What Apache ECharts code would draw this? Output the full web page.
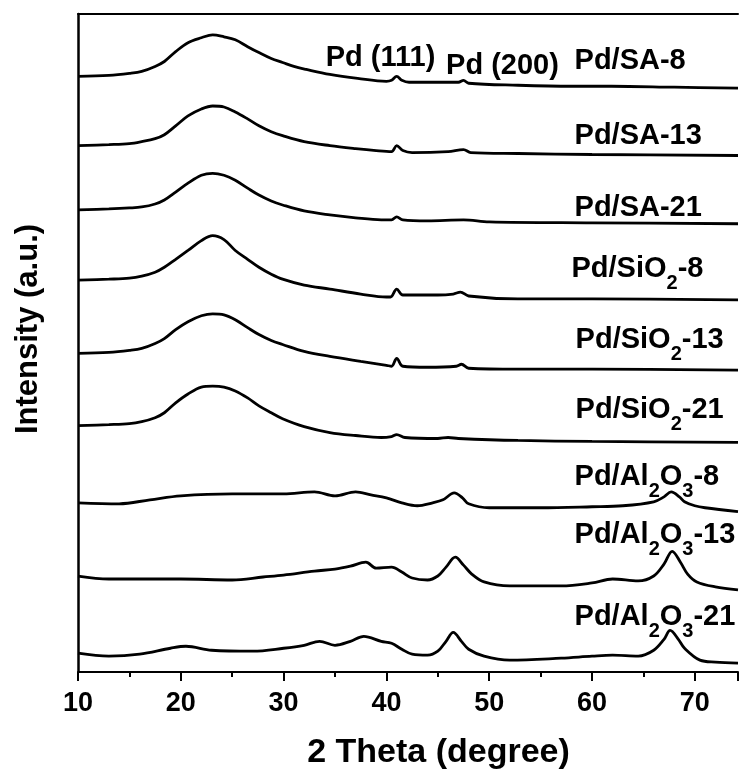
<!DOCTYPE html>
<html>
<head>
<meta charset="utf-8">
<script src="https://cdn.jsdelivr.net/npm/echarts/dist/echarts.min.js"></script>
<style>
html,body{margin:0;padding:0;background:#fff;}
#chart{width:741px;height:775px;}
</style>
</head>
<body>
<div id="chart"></div>
<script>
// 2 Theta (degree) vs stacked intensity (a.u.)
const xTicks = [10, 20, 30, 40, 50, 60, 70];

const sa8 = [[10,602],[13,603],[15,605],[16.2,607],[17.5,612],[18.4,617],[19.5,627],[20.7,636],[22,641],[23.1,644],[24.2,642],[25.3,639],[26.5,632],[27.6,626],[28.8,620],[29.9,616],[31,612],[32.2,609],[34.5,604],[37.2,600],[40,597],[40.5,598],[41,602],[41.5,598],[42.2,596],[45,596],[47,596],[47.5,598],[48,595],[52.8,593],[58,592],[61.9,592],[68,591],[74.2,590]];
const sa13 = [[10,532],[13,533],[15,534],[16.2,536],[17.5,539],[18.4,543],[19.5,552],[20.7,562],[22,569],[23.1,572],[24.2,571],[25.3,566],[26.5,559],[27.6,552],[28.8,546],[29.9,542],[32,536],[34.5,532],[37,529],[39,527],[40.5,526],[41,532],[41.6,527],[42.5,525],[46,526],[47.5,528],[48.2,525],[52.8,524],[60,523],[74.2,522]];
const sa21 = [[10,467],[13,468],[15,469],[16.2,470],[17.5,473],[18.4,477],[19.5,485],[20.7,494],[22,502],[23.1,504],[24.2,502],[25.3,497],[26.5,489],[27.6,482],[28.8,476],[29.9,472],[32,466],[34.5,462],[37,459],[39.5,457],[40.5,457],[41,460],[41.6,457],[44,456],[47.5,457],[50,455],[60,454],[74.2,453]];
const si8 = [[10,396],[13,397],[15,398],[16.2,400],[17.5,404],[18.4,409],[19.5,417],[20.7,426],[22,436],[23.1,441],[24.2,437],[25.3,426],[26.5,417],[27.6,409],[28.8,402],[29.9,397],[32,391],[34.5,387],[37.5,382],[40,379],[40.4,379],[41,387],[41.6,381],[45,381],[46.5,382],[47.2,384],[48,380],[52.8,377],[60,377],[74.2,376]];
const si13 = [[10,322],[13,323],[15,325],[16.2,327],[17.5,332],[18.4,337],[19.5,346],[20.7,354],[22,360],[23.1,362],[24.2,361],[25.3,356],[26.5,348],[27.6,341],[28.8,335],[29.9,331],[32,324],[34.5,319],[37.5,314],[40,310],[40.5,309],[41,317],[41.6,309],[44,308],[46.8,309],[47.3,311],[48,307],[52.8,306],[60,306],[74.2,305]];
const si21 = [[10,249],[13,250],[15,251],[16.2,253],[17.5,257],[18.4,262],[19.5,272],[20.7,281],[22,288],[23.1,289],[24.2,288],[25.3,284],[26.5,277],[27.6,269],[28.8,262],[29.9,256],[32,248],[34.5,242],[37,239],[39.5,237],[40.5,238],[41,240],[41.8,237],[45,236],[46,237],[47,236],[52.8,234],[60,233],[74.2,232]];
const al8 = [[10,171],[14,170],[17,174],[20,178],[25,180],[30,180],[33,182],[35,178],[37,182],[38.5,179],[40,176],[41.5,171],[43,168],[44.5,171],[45.5,174],[46.6,181],[47.4,176],[48,170],[50,166],[55,166],[60,167],[63,168],[66,172],[67,177],[67.7,182],[68.5,177],[69,172],[70,168],[71,166],[74.2,162]];
const al13 = [[10,97],[13,94],[20,94],[25,93],[28,96],[30,98],[33,102],[35,104],[36.5,107],[38,111],[39,105],[40.5,106],[41.5,101],[42.5,95],[44,93],[45,97],[45.8,106],[46.7,116],[47.5,108],[48.3,99],[49.5,91],[52,87],[57,87],[60,90],[62,94],[64.5,92],[66,97],[67,109],[67.8,122],[68.6,111],[69.3,99],[70.2,91],[72,86],[74.2,83]];
const al21 = [[10,19],[13,16],[16,18],[19,24],[20.5,26],[23,22],[27,21],[30,24],[32,27],[33.5,31],[35,27],[36.5,31],[37.8,36],[39.5,31],[40.5,29],[41.5,23],[42.5,18],[44,17],[45,21],[45.8,31],[46.5,40],[47.3,31],[48,23],[49.5,16],[52,12],[57,14],[60,16],[62,17],[64.5,16],[66,22],[67,33],[67.6,42],[68.4,33],[69,24],[70.5,12],[72,10],[74.2,9]];

const patterns = [sa8, sa13, sa21, si8, si13, si21, al8, al13, al21];

const labelTexts = ['Pd (111)', 'Pd (200)', 'Pd/SA-8', 'Pd/SA-13', 'Pd/SA-21',
  '{m|Pd/SiO}{s|2}{m|-8}', '{m|Pd/SiO}{s|2}{m|-13}', '{m|Pd/SiO}{s|2}{m|-21}',
  '{m|Pd/Al}{s|2}{m|O}{s|3}{m|-8}', '{m|Pd/Al}{s|2}{m|O}{s|3}{m|-13}', '{m|Pd/Al}{s|2}{m|O}{s|3}{m|-21}'];
const labelX = [34.1, 45.8, 58.3, 58.3, 58.3, 58.0, 58.4, 58.4, 58.3, 58.3, 58.3];
const labelY = [621, 612, 617, 542, 469, 407, 336, 265, 197, 138, 56];

const chart = echarts.init(document.getElementById('chart'), null, {renderer: 'canvas'});
const FONT = 'Liberation Sans, Arial, sans-serif';

const series = patterns.map(function (p) {
  return {
    type: 'line', data: p, showSymbol: false, smooth: 0.35, silent: true,
    lineStyle: {color: '#000', width: 2.8}, z: 2
  };
});
series.push({
  type: 'scatter', symbolSize: 0, silent: true, z: 5,
  itemStyle: {opacity: 1, color: '#000'},
  data: labelX.map(function (x, i) { return {value: [x, labelY[i]], name: labelTexts[i]}; }),
  label: {
    show: true, position: 'right', distance: 0, opacity: 1,
    formatter: function (p) { return p.name; },
    color: '#000', fontFamily: FONT, fontWeight: 'bold', fontSize: 29, lineHeight: 34,
    rich: {
      m: {fontFamily: FONT, fontWeight: 'bold', fontSize: 29, lineHeight: 34, color: '#000'},
      s: {fontFamily: FONT, fontWeight: 'bold', fontSize: 20, lineHeight: 49, verticalAlign: 'bottom', color: '#000'}
    }
  }
});

chart.setOption({
  animation: false,
  backgroundColor: '#fff',
  grid: {left: 78, top: 14, right: 0, bottom: 96, containLabel: false},
  xAxis: [{
    type: 'value', min: 10, max: 74.2, interval: 10,
    name: '2 Theta (degree)', nameLocation: 'middle', nameGap: 64,
    nameTextStyle: {fontFamily: FONT, fontWeight: 'bold', fontSize: 34, color: '#000', padding: [0, 0, 0, 61]},
    axisLine: {show: true, onZero: false, lineStyle: {color: '#000', width: 2}},
    axisTick: {show: true, inside: false, length: 9, lineStyle: {color: '#000', width: 2}},
    minorTick: {show: true, splitNumber: 2, length: 5, lineStyle: {color: '#000', width: 2}},
    axisLabel: {
      margin: 18, fontFamily: FONT, fontWeight: 'bold', fontSize: 27, color: '#000',
      formatter: function (v) { return xTicks.indexOf(v) >= 0 ? String(v) : ''; }
    },
    splitLine: {show: false}
  }, {
    type: 'value', position: 'top', min: 10, max: 74.2,
    axisLine: {show: true, onZero: false, lineStyle: {color: '#000', width: 2}},
    axisTick: {show: false}, axisLabel: {show: false}, splitLine: {show: false}
  }],
  yAxis: {
    type: 'value', min: 0, max: 665,
    name: 'Intensity (a.u.)', nameLocation: 'middle', nameGap: 34, nameRotate: 90,
    nameTextStyle: {fontFamily: FONT, fontWeight: 'bold', fontSize: 31, color: '#000', padding: [0, 0, 0, 28]},
    axisLine: {show: true, onZero: false, lineStyle: {color: '#000', width: 2.5}},
    axisTick: {show: false}, axisLabel: {show: false}, splitLine: {show: false}
  },
  series: series
});
</script>
</body>
</html>
